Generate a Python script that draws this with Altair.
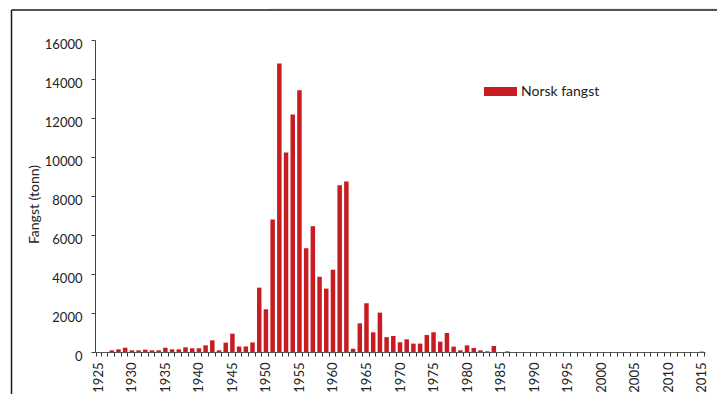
import altair as alt
import pandas as pd

years = list(range(1925, 2016))
catch_tonnes = [
    0, 0, 85, 137, 220, 85, 85, 120, 85, 85,          # 1925-1934
    220, 137, 137, 240, 190, 190, 340, 600, 85, 480,  # 1935-1944
    940, 280, 285, 490, 3300, 2190, 6790, 14800, 10230, 12180,  # 1945-1954
    13420, 5320, 6450, 3860, 3250, 4220, 8550, 8740, 170, 1470,  # 1955-1964
    2500, 1010, 2020, 760, 820, 500, 650, 430, 430, 870,  # 1965-1974
    1010, 530, 975, 275, 85, 340, 205, 85, 35, 310,   # 1975-1984
    0, 30, 0, 0, 0, 0, 0, 0, 0, 0,                    # 1985-1994
    0, 0, 0, 0, 0, 0, 0, 0, 0, 0,                     # 1995-2004
    0, 0, 0, 0, 0, 0, 0, 0, 0, 0,                     # 2005-2014
    20,                                               # 2015
]
series_name = "Norsk fangst"
y_ticks = [0, 2000, 4000, 6000, 8000, 10000, 12000, 14000, 16000]

df = pd.DataFrame({"year": years, "catch": catch_tonnes, "series": series_name})

FONT = "Lato"
RED = "#c71c22"

bars = alt.Chart(df).mark_bar(color=RED).encode(
    x=alt.X(
        "year:O",
        scale=alt.Scale(paddingInner=0.33, paddingOuter=0.165),
        axis=alt.Axis(
            title=None,
            labelAngle=270,
            labelExpr="datum.value % 5 == 0 ? datum.label : ''",
            labelFont=FONT,
            labelFontSize=13,
            labelColor="#222222",
            labelPadding=6,
            tickBand="extent",
            tickSize=4,
            tickColor="#333333",
            domainColor="#555555",
            labelOverlap=False,
            grid=False,
        ),
    ),
    y=alt.Y(
        "catch:Q",
        scale=alt.Scale(domain=[0, 16000], nice=False),
        axis=alt.Axis(
            title="Fangst (tonn)",
            values=y_ticks,
            format="d",
            labelFont=FONT,
            labelFontSize=13,
            labelColor="#222222",
            labelPadding=9,
            labelOffset=4,
            tickSize=4,
            tickColor="#444444",
            domainColor="#444444",
            titleFont=FONT,
            titleFontSize=14,
            titleFontWeight="normal",
            titleColor="#222222",
            titleX=-61,
            titleY=164,
            titleBaseline="middle",
            grid=False,
        ),
    ),
    color=alt.Color(
        "series:N",
        scale=alt.Scale(range=[RED]),
        legend=alt.Legend(
            title=None,
            orient="none",
            legendX=389,
            legendY=35,
            padding=0,
            symbolType="M-1,-0.27H1V0.27H-1Z",
            symbolSize=1089,
            symbolStrokeWidth=0,
            symbolOpacity=1,
            labelFont=FONT,
            labelFontSize=14,
            labelColor="#222222",
            labelOffset=4,
        ),
    ),
)

frame_df = pd.DataFrame({"k": [0]})
band = alt.Chart(frame_df).mark_rect(color="#eeede6").encode(
    x=alt.value(175), x2=alt.value(640), y=alt.value(-40), y2=alt.value(-31)
)
top_line = alt.Chart(frame_df).mark_rule(color="#1a1a1a", strokeWidth=1.5).encode(
    x=alt.value(-83.5), x2=alt.value(640), y=alt.value(-30)
)
left_line = alt.Chart(frame_df).mark_rule(color="#1a1a1a", strokeWidth=1.5).encode(
    x=alt.value(-83.5), y=alt.value(-30), y2=alt.value(400)
)

chart = alt.layer(band, top_line, left_line, bars).properties(
    width=610,
    height=312,
    autosize=alt.AutoSizeParams(type="none"),
    padding={"left": 87, "top": 32, "right": 12, "bottom": 42},
).configure_view(stroke=None)

chart.save("out.html", embed_options={"renderer": "svg", "actions": False})
